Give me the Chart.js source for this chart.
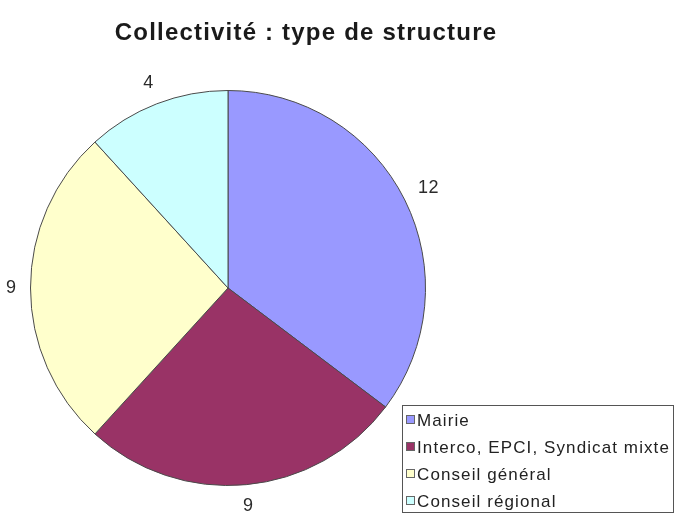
<!DOCTYPE html>
<html>
<head>
<meta charset="utf-8">
<script src="https://cdn.jsdelivr.net/npm/chart.js@4"></script>
<style>
  html, body { margin: 0; padding: 0; background: #fff; }
  canvas { display: block; }
</style>
</head>
<body>
<canvas id="myChart" width="675" height="516"></canvas>
<script>
const titleText = 'Collectivité : type de structure';
const labels = ['Mairie', 'Interco, EPCI, Syndicat mixte', 'Conseil général', 'Conseil régional'];
const values = [12, 9, 9, 4];
const colors = ['#9999FF', '#993366', '#FFFFCC', '#CCFFFF'];

const ctx = document.getElementById('myChart');

// title, value labels around the pie and the boxed legend
const extras = {
  id: 'extras',
  afterDraw(chart) {
    const c = chart.ctx;
    c.save();

    c.fillStyle = '#1a1a1a';
    c.font = 'bold 24px "Liberation Sans", Arial, sans-serif';
    c.letterSpacing = '1.2px';
    c.textAlign = 'center';
    c.textBaseline = 'alphabetic';
    c.fillText(titleText, 306, 40);

    // values outside each slice
    c.font = '18px "Liberation Sans", Arial, sans-serif';
    c.letterSpacing = '0.5px';
    c.fillStyle = '#2a2a2a';
    c.textBaseline = 'middle';
    chart.getDatasetMeta(0).data.forEach((arc, i) => {
      const a = (arc.startAngle + arc.endAngle) / 2;
      const txt = String(values[i]);
      const hw = c.measureText(txt).width / 2;
      const r = arc.outerRadius + 14 + hw * Math.abs(Math.cos(a)) + 7 * Math.abs(Math.sin(a));
      c.fillText(txt, arc.x + Math.cos(a) * r, arc.y + Math.sin(a) * r);
    });

    // legend
    c.font = '17px "Liberation Sans", Arial, sans-serif';
    c.letterSpacing = '1.1px';
    c.strokeStyle = '#555';
    c.lineWidth = 1;
    c.strokeRect(402.5, 405.5, 271, 107);
    c.textAlign = 'left';
    labels.forEach((lab, i) => {
      const y = 420 + i * 27;
      c.fillStyle = colors[i];
      c.fillRect(406, y - 5, 9, 9);
      c.strokeStyle = '#666';
      c.strokeRect(406.5, y - 4.5, 8, 8);
      c.fillStyle = '#222';
      c.fillText(lab, 417, y + 1);
    });
    c.restore();
  }
};

const data = {
  labels,
  datasets: [{
    data: values,
    backgroundColor: colors,
    borderColor: '#4a4a4a',
    borderWidth: 1
  }]
};

const config = {
  type: 'pie',
  data: data,
  options: {
    responsive: false,
    animation: false,
    layout: { padding: { left: 30, right: 249, top: 90, bottom: 30 } },
    plugins: {
      legend: { display: false },
      title: { display: false },
      tooltip: { enabled: false }
    }
  },
  plugins: [extras]
};

const myChart = new Chart(ctx, config);
</script>
</body>
</html>
